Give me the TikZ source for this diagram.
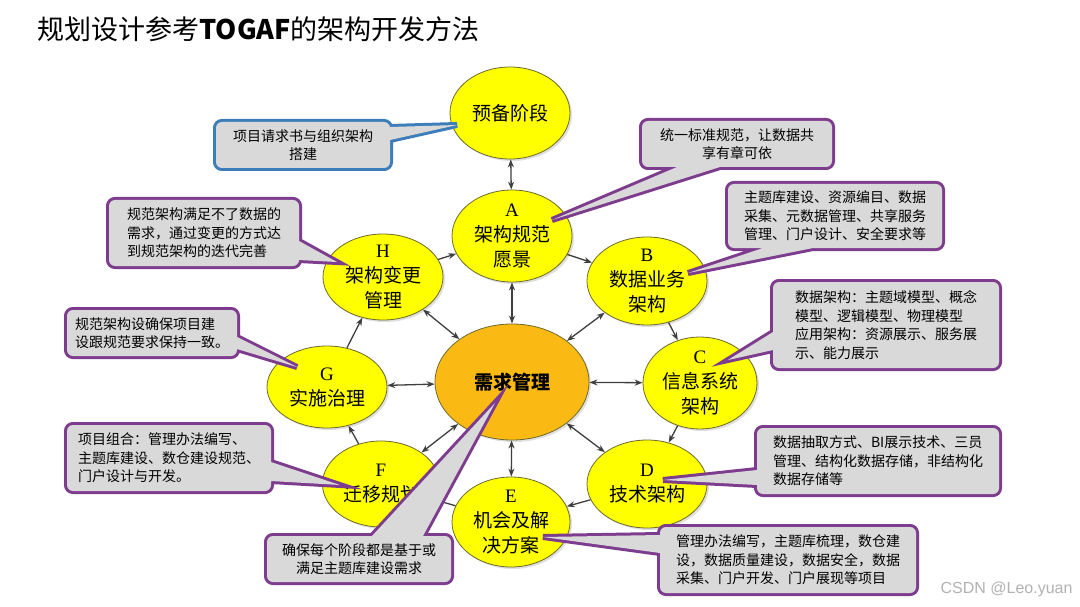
\documentclass[tikz,border=0pt]{standalone}
\usepackage{fontspec}
\setmainfont{Noto Sans CJK SC}
\newfontfamily\lsr{Liberation Serif}
\newfontfamily\lss{Liberation Sans}
\usetikzlibrary{calc,arrows.meta,shapes.geometric,shadows}

\definecolor{phaseyellow}{HTML}{FFFF00}
\definecolor{phaseedge}{HTML}{6E6A2A}
\definecolor{coreorange}{HTML}{FBBA13}
\definecolor{notegray}{HTML}{D9D9D9}
\definecolor{noteviolet}{HTML}{7E3C8E}
\definecolor{noteblue}{HTML}{3D7EBA}
\definecolor{linkgray}{HTML}{3F3F3F}

\begin{document}
\begin{tikzpicture}[x=1pt, y=-1pt,
  phase/.style={ellipse, draw=phaseedge, line width=0.8pt, fill=phaseyellow,
    minimum width=120, minimum height=88, inner sep=-10pt, align=center,
    font=\fontsize{19}{25}\selectfont,
    drop shadow={shadow xshift=2pt, shadow yshift=-2pt, opacity=0.25}},
  core/.style={phase, fill=coreorange, minimum width=154, minimum height=116,
    font=\fontsize{19}{25}\selectfont\bfseries},
  flow/.style={draw=linkgray, line width=1.3pt, -{Stealth[length=8pt,width=6pt]}},
  twoway/.style={flow, {Stealth[length=8pt,width=6pt]}-{Stealth[length=8pt,width=6pt]}},
  note/.style={fill=notegray, rounded corners=6pt, preaction={draw=#1, line width=6pt}},
  note/.default=noteviolet,
  notetext/.style={align=left, inner sep=0pt, font=\fontsize{14}{18.5}\selectfont}]

  % Canvas
  \fill[white] (0,0) rectangle (1080,607);
  \useasboundingbox (0,0) rectangle (1080,607);

  % Title
  \node[anchor=west, font=\fontsize{27}{30}\selectfont] (title) at (34,29)
    {规划设计参考\textbf{TOGAF}的架构开发方法};

  % Phases
  \node[phase, minimum height=92] (P) at (510,113) {预备阶段};
  \node[phase, minimum height=92] (A) at (512,236) {{\lsr A}\\架构规范\\愿景};
  \node[phase] (B) at (647,281) {{\lsr B}\\数据业务\\架构};
  \node[phase, minimum width=114, minimum height=92] (C) at (700,383) {{\lsr C}\\信息系统\\架构};
  \node[phase] (D) at (647,484) {{\lsr D}\\技术架构};
  \node[phase, minimum width=118, minimum height=90] (E) at (511,522) {{\lsr E}\\机会及解\\决方案};
  \node[phase, minimum width=117, minimum height=86] (F) at (381,484) {{\lsr F}\\迁移规划};
  \node[phase, minimum height=82] (G) at (327,387) {{\lsr G}\\实施治理};
  \node[phase, minimum height=86] (H) at (383,277) {{\lsr H}\\架构变更\\管理};
  \node[core] (M) at (512,382) {需求管理};

  % Links to the centre
  \draw[twoway] (P) -- (A);
  \draw[twoway] (M) -- (A);
  \draw[twoway] (M) -- (B);
  \draw[twoway] (M) -- (C);
  \draw[twoway] (M) -- (D);
  \draw[twoway] (M) -- (E);
  \draw[twoway] (M) -- (F);
  \draw[twoway] (M) -- (G);
  \draw[twoway] (M) -- (H);

  % Cycle A -> H
  \draw[flow] (A) -- (B);
  \draw[flow] (B) -- (C);
  \draw[flow] (C) -- (D);
  \draw[flow] (D) -- (E);
  \draw[flow] (E) -- (F);
  \draw[flow] (F) -- (G);
  \draw[flow] (G) -- (H);
  \draw[flow] (H) -- (A);

  % Notes
  \coordinate (n1) at (303,145);
  \path[note=noteblue] ($(n1)+(-87,-23)$) rectangle ($(n1)+(87,23)$)
    [sharp corners] ($(n1)+(87,-18)$) -- ($(P)+(-53,12)$) -- ($(n1)+(87,-5)$);
  \node[notetext, align=center] (t1) at (n1) {项目请求书与组织架构\\搭建};

  \coordinate (n2) at (737,144);
  \path[note] ($(n2)+(-95,-23)$) rectangle ($(n2)+(95,23)$)
    [sharp corners] ($(n2)+(-60,23)$) -- ($(A)+(40,-16)$) -- ($(n2)+(-17,23)$);
  \node[notetext, align=center] (t2) at (n2) {统一标准规范，让数据共\\享有章可依};

  \coordinate (n3) at (835,216);
  \path[note] ($(n3)+(-107,-32)$) rectangle ($(n3)+(107,32)$)
    [sharp corners] ($(n3)+(-72,32)$) -- ($(B)+(41,-8)$) -- ($(n3)+(-22,32)$);
  \node[notetext] (t3) at (n3) {主题库建设、资源编目、数据\\采集、元数据管理、共享服务\\管理、门户设计、安全要求等};

  \coordinate (n4) at (204,233);
  \path[note] ($(n4)+(-95,-33)$) rectangle ($(n4)+(95,33)$)
    [sharp corners] ($(n4)+(95,8)$) -- ($(H)+(-46,-15)$) -- ($(n4)+(95,27)$);
  \node[notetext] (t4) at (n4) {规范架构满足不了数据的\\需求，通过变更的方式达\\到规范架构的迭代完善};

  \coordinate (n5) at (886,325);
  \path[note] ($(n5)+(-113,-43)$) rectangle ($(n5)+(113,43)$)
    [sharp corners] ($(n5)+(-113,7)$) -- ($(C)+(28,-23)$) -- ($(n5)+(-113,25)$);
  \node[notetext] (t5) at (n5) {数据架构：主题域模型、概念\\模型、逻辑模型、物理模型\\应用架构：资源展示、服务展\\示、能力展示};

  \coordinate (n6) at (152,333);
  \path[note] ($(n6)+(-85,-23)$) rectangle ($(n6)+(85,23)$)
    [sharp corners] ($(n6)+(85,4)$) -- ($(G)+(-30,-20)$) -- ($(n6)+(85,16)$);
  \node[notetext] (t6) at (n6) {规范架构设确保项目建\\设跟规范要求保持一致。};

  \coordinate (n7) at (169,458);
  \path[note] ($(n7)+(-102,-33)$) rectangle ($(n7)+(102,33)$)
    [sharp corners] ($(n7)+(102,4)$) -- ($(F)+(-41,1)$) -- ($(n7)+(102,23)$);
  \node[notetext] (t7) at (n7) {项目组合：管理办法编写、\\主题库建设、数仓建设规范、\\门户设计与开发。};

  \coordinate (n8) at (878,461);
  \path[note] ($(n8)+(-121,-33)$) rectangle ($(n8)+(121,33)$)
    [sharp corners] ($(n8)+(-121,9)$) -- ($(D)+(16,-4)$) -- ($(n8)+(-121,24)$);
  \node[notetext] (t8) at (n8) {数据抽取方式、BI展示技术、三员\\管理、结构化数据存储，非结构化\\数据存储等};

  \coordinate (n9) at (359,559);
  \path[note] ($(n9)+(-92,-23)$) rectangle ($(n9)+(92,23)$)
    [sharp corners] ($(n9)+(13,-23)$) -- ($(M)+(-17,21)$) -- ($(n9)+(64,-23)$);
  \node[notetext, align=center] (t9) at (n9) {确保每个阶段都是基于或\\满足主题库建设需求};

  \coordinate (n10) at (788,560);
  \path[note] ($(n10)+(-128,-33)$) rectangle ($(n10)+(128,33)$)
    [sharp corners] ($(n10)+(-128,-25)$) -- ($(E)+(32,15)$) -- ($(n10)+(-128,-7)$);
  \node[notetext] (t10) at (n10) {管理办法编写，主题库梳理，数仓建\\设，数据质量建设，数据安全，数据\\采集、门户开发、门户展现等项目};

  % Watermark
  \node[anchor=east, font=\lss\fontsize{16}{18}\selectfont, text=gray!60] (mark) at (1076,589) {CSDN @Leo.yuan};
\end{tikzpicture}
\end{document}
